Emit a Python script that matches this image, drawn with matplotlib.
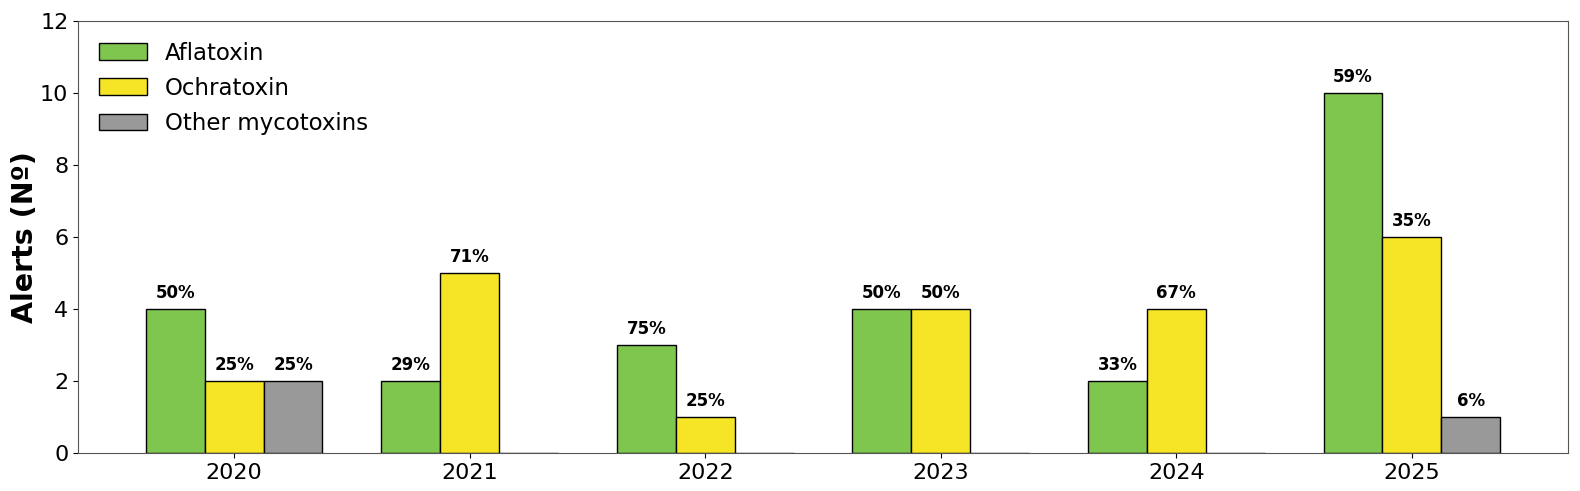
import matplotlib
matplotlib.use("Agg")
import matplotlib.pyplot as plt
import numpy as np

years = ["2020", "2021", "2022", "2023", "2024", "2025"]
aflatoxin = [4, 2, 3, 4, 2, 10]
ochratoxin = [2, 5, 1, 4, 4, 6]
other = [2, 0, 0, 0, 0, 1]
series_names = ["Aflatoxin", "Ochratoxin", "Other mycotoxins"]
colors = ["#7FC64F", "#F5E526", "#999999"]

fig, ax = plt.subplots(figsize=(15.8, 4.91), dpi=100)
x = np.arange(len(years))
w = 0.25
series = [aflatoxin, ochratoxin, other]
totals = np.array(aflatoxin) + np.array(ochratoxin) + np.array(other)
for i, (vals, name, c) in enumerate(zip(series, series_names, colors)):
    pos = x + (i - 1) * w
    ax.bar(pos, vals, w, color=c, edgecolor="black", linewidth=1, label=name)
    for p, v, t in zip(pos, vals, totals):
        if v > 0:
            ax.text(p, v + 0.2, f"{round(100 * v / t)}%", ha="center", va="bottom",
                    fontsize=12, fontweight="bold")

ax.set_xticks(x)
ax.set_xticklabels(years, fontsize=16)
ax.set_ylim(0, 12)
ax.set_yticks(range(0, 13, 2))
ax.tick_params(axis="y", labelsize=16)
ax.set_ylabel("Alerts (Nº)", fontsize=20.5, fontweight="bold")
ax.yaxis.set_label_coords(-0.026, 0.5)
for s in ax.spines.values():
    s.set_color("#555555")
ax.legend(loc="upper left", fontsize=16.5, frameon=False, handlelength=2.1,
          handleheight=0.75, labelspacing=0.53)
fig.subplots_adjust(left=0.0494, right=0.9924, top=0.957, bottom=0.0774)
fig.savefig("out.png", dpi=100)
